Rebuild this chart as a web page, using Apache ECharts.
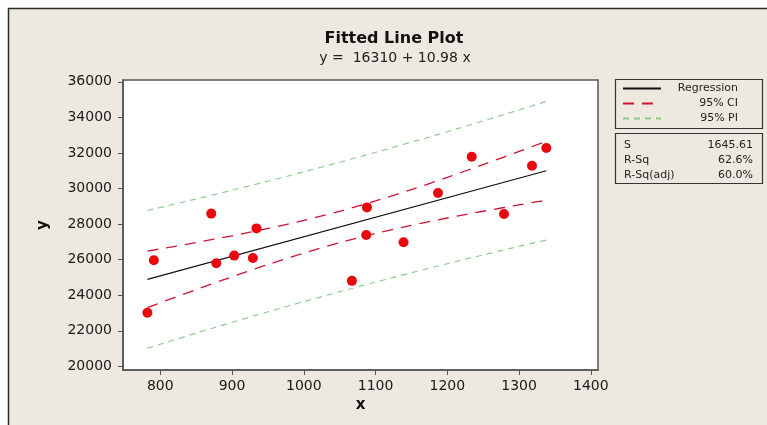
<!DOCTYPE html>
<html>
<head>
<meta charset="utf-8">
<script src="https://cdn.jsdelivr.net/npm/echarts@6/dist/echarts.min.js"></script>
<style>
  html, body { margin: 0; padding: 0; background: #fff; }
  #main { width: 767px; height: 425px; }
</style>
</head>
<body>
<div id="main"></div>
<script>
// data
var obsX = [782, 791, 871, 878, 903, 929, 934, 1067, 1088, 1087, 1139, 1187, 1234, 1279, 1318, 1338];
var obsY = [23020, 25970, 28590, 25800, 26230, 26100, 27760, 24810, 28940, 27390, 26980, 29750, 31790, 28570, 31280, 32280];

var regX = [782, 1338];
var regY = [24896, 31001];

var bandX   = [782, 850, 900, 950, 1000, 1050, 1100, 1150, 1200, 1250, 1300, 1338];
var ciUpper = [26482, 26966, 27345, 27754, 28208, 28722, 29302, 29942, 30629, 31347, 32085, 32656];
var ciLower = [23310, 24320, 25039, 25728, 26372, 26956, 27474, 27932, 28343, 28723, 29083, 29346];
var piUpper = [28766, 29413, 29905, 30413, 30937, 31478, 32034, 32607, 33196, 33801, 34420, 34900];
var piLower = [21026, 21873, 22479, 23069, 23643, 24200, 24742, 25267, 25776, 26269, 26748, 27102];

var xTicks = [800, 900, 1000, 1100, 1200, 1300, 1400];
var yTicks = [20000, 22000, 24000, 26000, 28000, 30000, 32000, 34000, 36000];

var statLabels = ['S', 'R-Sq', 'R-Sq(adj)'];
var statValues = ['1645.61', '62.6%', '60.0%'];

function pairs(xs, ys) {
  var out = [];
  for (var i = 0; i < xs.length; i++) out.push([xs[i], ys[i]]);
  return out;
}
function plain(v) { return String(v); }

var font = 'DejaVu Sans';
var ciStyle = { color: '#cc1433', width: 1.3, type: [11, 8] };
var piStyle = { color: '#8cc98c', width: 1.1, type: [6, 5] };

// frame, title and the stats box
var graphics = [
  { type: 'rect', shape: { x: 8.5, y: 8.5, width: 820, height: 480 },
    style: { fill: '#EEE9E0', stroke: '#2b2b2b', lineWidth: 1.5 }, z: -10 },
  { type: 'text', style: { x: 394, y: 39, text: 'Fitted Line Plot', textAlign: 'center', textVerticalAlign: 'middle',
      font: 'bold 16px "DejaVu Sans"', fill: '#111' } },
  { type: 'text', style: { x: 395, y: 58, text: 'y =  16310 + 10.98 x', textAlign: 'center', textVerticalAlign: 'middle',
      font: '14px "DejaVu Sans"', fill: '#222' } },
  { type: 'rect', shape: { x: 615.5, y: 79.5, width: 147, height: 49 },
    style: { fill: 'none', stroke: '#333', lineWidth: 1.2 } },
  { type: 'rect', shape: { x: 615.5, y: 133.5, width: 147, height: 50 },
    style: { fill: 'none', stroke: '#333', lineWidth: 1.2 } }
];
for (var i = 0; i < statLabels.length; i++) {
  graphics.push({ type: 'text', style: { x: 624, y: 145 + i * 15, text: statLabels[i], textVerticalAlign: 'middle',
      font: '11px "DejaVu Sans"', fill: '#222' } });
  graphics.push({ type: 'text', style: { x: 753, y: 145 + i * 15, text: statValues[i], textAlign: 'right', textVerticalAlign: 'middle',
      font: '11px "DejaVu Sans"', fill: '#222' } });
}

var chart = echarts.init(document.getElementById('main'));
chart.setOption({
  backgroundColor: '#ffffff',
  animation: false,
  textStyle: { fontFamily: font },
  graphic: graphics,
  grid: {
    left: 123, right: 169, top: 80, bottom: 55,
    show: true, backgroundColor: '#ffffff', borderColor: '#555', borderWidth: 1.5
  },
  legend: {
    data: ['Regression', '95% CI', '95% PI'],
    orient: 'vertical',
    left: 622, top: 83,
    padding: 0,
    itemWidth: 38, itemHeight: 11, itemGap: 4,
    itemStyle: { opacity: 0 },
    formatter: function (name) { return '{r|' + name + '}'; },
    textStyle: {
      fontSize: 11, color: '#222',
      rich: { r: { width: 72, align: 'right', fontSize: 11, color: '#222', lineHeight: 11 } }
    }
  },
  xAxis: {
    type: 'value', min: 748, max: 1410,
    name: 'x', nameLocation: 'middle', nameGap: 27,
    nameTextStyle: { fontSize: 15, fontWeight: 'bold', color: '#111' },
    axisLine: { lineStyle: { color: '#555', width: 1.5 } },
    axisTick: { length: 5, lineStyle: { color: '#555' }, customValues: xTicks },
    axisLabel: { fontSize: 14, color: '#1a1a1a', margin: 9, customValues: xTicks, formatter: plain },
    splitLine: { show: false }
  },
  yAxis: {
    type: 'value', min: 19800, max: 36100,
    name: 'y', nameLocation: 'middle', nameGap: 72, nameRotate: 90,
    nameTextStyle: { fontSize: 15, fontWeight: 'bold', color: '#111' },
    axisLine: { lineStyle: { color: '#555', width: 1.5 } },
    axisTick: { length: 5, lineStyle: { color: '#555' }, customValues: yTicks },
    axisLabel: { fontSize: 14, color: '#1a1a1a', margin: 11, customValues: yTicks, formatter: plain },
    splitLine: { show: false }
  },
  series: [
    { name: '95% PI', type: 'line', data: pairs(bandX, piUpper), symbol: 'none', smooth: 0.3, lineStyle: piStyle, itemStyle: { color: piStyle.color } },
    { name: '95% PI', type: 'line', data: pairs(bandX, piLower), symbol: 'none', smooth: 0.3, lineStyle: piStyle, itemStyle: { color: piStyle.color } },
    { name: '95% CI', type: 'line', data: pairs(bandX, ciUpper), symbol: 'none', smooth: 0.3, lineStyle: ciStyle, itemStyle: { color: ciStyle.color } },
    { name: '95% CI', type: 'line', data: pairs(bandX, ciLower), symbol: 'none', smooth: 0.3, lineStyle: ciStyle, itemStyle: { color: ciStyle.color } },
    { name: 'Regression', type: 'line', data: pairs(regX, regY), symbol: 'none',
      lineStyle: { color: '#111', width: 1.2 }, itemStyle: { color: '#111' } },
    { name: 'obs', type: 'scatter', data: pairs(obsX, obsY), symbol: 'circle', symbolSize: 10,
      itemStyle: { color: '#e8070d', opacity: 1 }, z: 5 }
  ]
});
</script>
</body>
</html>
